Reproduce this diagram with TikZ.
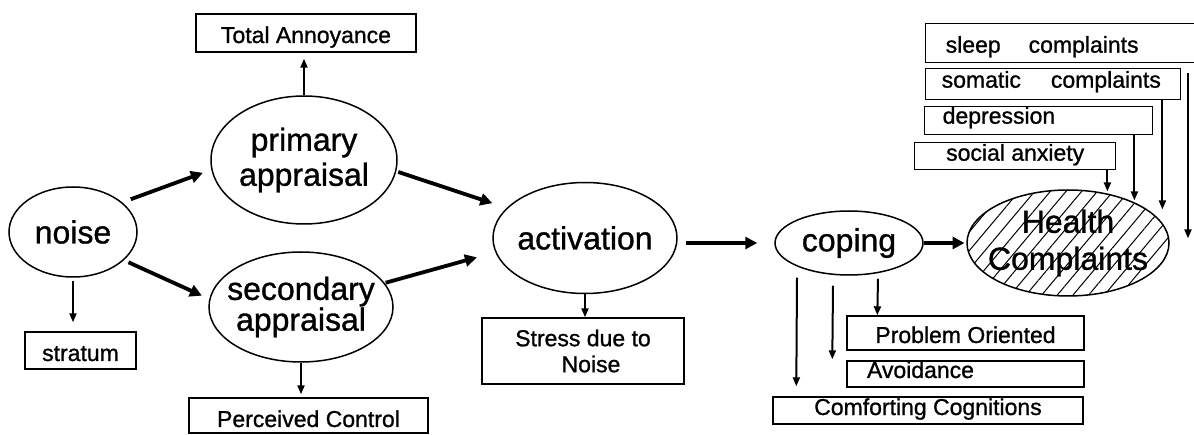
\documentclass[tikz,border=0pt]{standalone}
\usepackage{fontspec}
\setmainfont{Liberation Sans}[FakeBold=1]
\usetikzlibrary{shapes.geometric,arrows.meta,patterns.meta,calc}
\begin{document}
\begin{tikzpicture}[x=1pt,y=-1pt,
  oval/.style={draw,line width=1.5pt,ellipse,inner sep=-20pt},
  big/.style={font=\fontsize{32}{35}\selectfont},
  tag/.style={draw,line width=1.4pt,rectangle,inner sep=0pt,text depth=0pt,font=\fontsize{23}{26}\selectfont},
  flow/.style={line width=3.8pt,-{Triangle[length=12pt,width=12pt]}},
  drop/.style={line width=2pt,-{Triangle[length=9pt,width=7pt]}}
]
\fill[white] (0,0) rectangle (1194,435);
\useasboundingbox (0,0) rectangle (1194,435);

% ellipses of the stress model
\node[oval,big] at (73,232) [minimum width=128pt,minimum height=90pt] (noise) {noise};
\node[oval,big,align=center,minimum width=186pt,minimum height=128pt] (prim) at (304,160) {primary\\appraisal};
\node[oval,align=center,minimum width=184pt,minimum height=110pt,font=\fontsize{32}{27}\selectfont] (sec) at (301,307) {secondary\\appraisal};
\node[oval,big,minimum width=184pt,minimum height=111pt] (act) at (585,238) {activation};
\node[oval,big,minimum width=148pt,minimum height=64pt] (cop) at (849,243) {coping};
\node[oval,align=center,minimum width=202pt,minimum height=106pt,font=\fontsize{32}{37}\selectfont,
      pattern={Lines[angle=50,distance=12pt,line width=1pt]}] (hc) at (1068,243) {Health\\Complaints};

% outcome boxes
\node[tag,text height=20pt,minimum width=220pt,minimum height=38pt] (annoy) at (306,33) {Total Annoyance};
\node[tag,text height=21pt,minimum width=111pt,minimum height=37pt] (strat) at (80.5,350.5) {stratum};
\node[tag,text height=23pt,minimum width=239pt,minimum height=35pt] (pc) at (308.5,415.5) {Perceived Control};
\node[draw,line width=1.4pt,rectangle,inner sep=0pt,align=center,font=\fontsize{23}{26}\selectfont,
      minimum width=202pt,minimum height=66pt] (stress) at (583,351) {Stress due to\\\hspace*{16pt}Noise};
\node[tag,text height=20pt,minimum width=237pt,minimum height=34pt] (prob) at (965.5,333) {Problem Oriented};
\node[tag,text height=8pt,align=left,text width=197pt,inner xsep=20pt,minimum height=26pt] (avoid) at (965.5,374) {Avoidance};
\node[tag,text height=9pt,minimum width=310pt,minimum height=27pt] (comf) at (928,410.5) {Comforting Cognitions};

\node[tag,text height=19pt,align=left,text width=240pt,inner xsep=20pt,minimum height=39pt,anchor=north west] (sleep) at (925,23) {\mbox{sleep\hspace{28pt}complaints}};
\node[tag,text height=7pt,align=left,text width=223pt,inner xsep=16pt,minimum height=31pt,anchor=north west] (som) at (925,68) {\mbox{somatic\hspace{30pt}complaints}};
\node[tag,text height=6pt,align=left,text width=192pt,inner xsep=18pt,minimum height=28pt,anchor=north west] (dep) at (924,106) {depression};
\node[tag,text height=9pt,minimum width=201pt,minimum height=27pt,anchor=north west] (soc) at (914,142) {social anxiety};

% main flow
\draw[flow,shorten <=9pt,shorten >=9pt] (noise.31) -- (prim.186);
\draw[flow,shorten <=5pt,shorten >=8pt] (noise.331) -- (sec.175);
\draw[flow,shorten <=2pt,shorten >=15pt] (prim.353) -- (act.159);
\draw[flow,shorten <=1pt,shorten >=19pt] (sec.16) -- (act.189);
\draw[flow,shorten <=8pt,shorten >=17pt] (act.east |- cop.west) -- (cop.west);
\draw[flow,shorten >=2pt] (cop.east) -- (hc.west);

% side outcomes
\draw[drop,shorten >=6pt] (prim.north) -- (prim.north |- annoy.south);
\draw[drop,shorten <=3pt,shorten >=9pt] (noise.south) -- (noise.south |- strat.north);
\draw[drop,shorten >=3pt] (sec.south) -- (sec.south |- pc.north);
\draw[drop] (act.south) -- (act.south |- stress.north);

% coping strategies
\draw[drop] ($(cop.south)+(29,3)$) -- ($(prob.north west)+(31,0)$);
\draw[drop] ($(cop.south)+(-16,10)$) -- ($(avoid.north west)+(-14,-1)$);
\draw[drop] ($(cop.south)+(-52,2)$) -- ($(comf.north west)+(24,-10)$);

% complaint scales
\draw[drop] ($(soc.south east)+(-9,0)$) -- ($(soc.south east)+(-9,21)$);
\draw[drop] ($(dep.south east)+(-19,0)$) -- ($(dep.south east)+(-19,65)$);
\draw[drop] ($(som.south east)+(-19,0)$) -- ($(som.south east)+(-19,109)$);
\draw[drop] ($(sleep.south west)+(263,10)$) -- ($(sleep.south west)+(263,175)$);
\end{tikzpicture}
\end{document}
